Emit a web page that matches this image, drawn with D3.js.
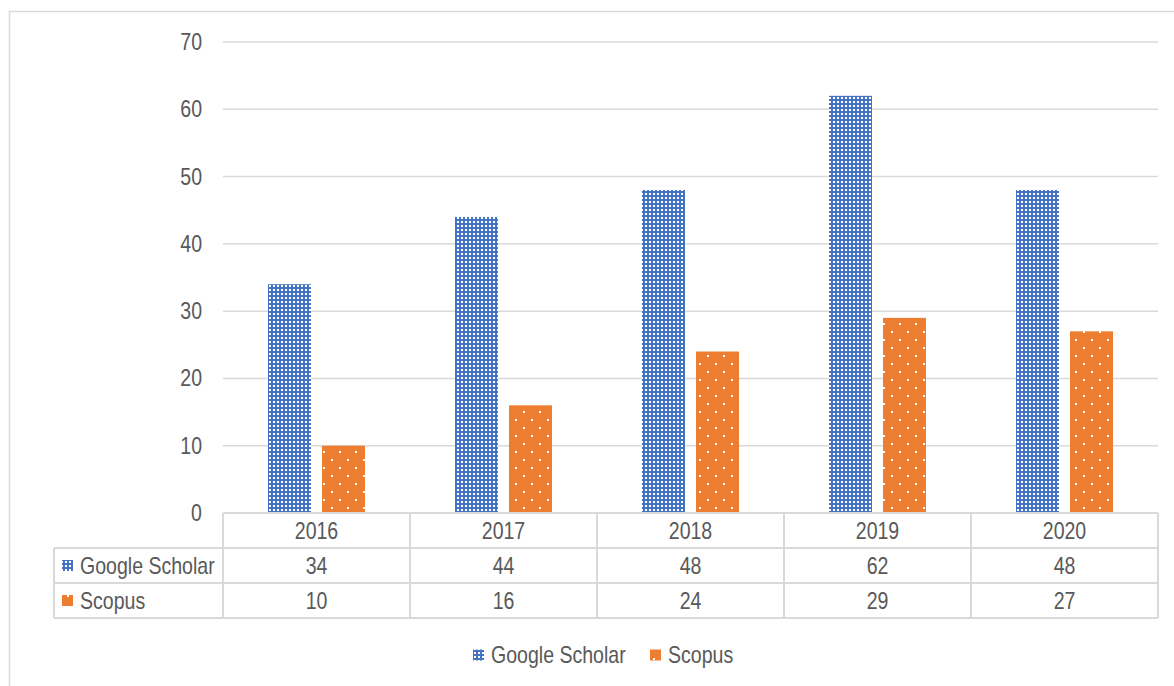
<!DOCTYPE html>
<html>
<head>
<meta charset="utf-8">
<script src="https://cdn.jsdelivr.net/npm/d3@7"></script>
<style>
  body { margin: 0; background: #fff; }
  text { font-family: "Liberation Sans", Arial, sans-serif; fill: #595959; }
</style>
</head>
<body>
<div id="chart"></div>
<script>
// chart data
const years = ['2016', '2017', '2018', '2019', '2020'];
const seriesNames = ['Google Scholar', 'Scopus'];
const googleScholar = [34, 44, 48, 62, 48];
const scopus = [10, 16, 24, 29, 27];
const yTicks = [0, 10, 20, 30, 40, 50, 60, 70];

const values = [googleScholar, scopus];
const colors = ['#4472c4', '#ed7d31'];

const width = 1174, height = 686;
const plot = {left: 223, right: 1158, top: 42, bottom: 513};
const rowH = 35;
const fontSize = 23;
const narrow = 0.85; // no Arial Narrow available, squeeze glyphs horizontally

const svg = d3.select('#chart').append('svg')
    .attr('width', width)
    .attr('height', height);

// place a condensed text label at (x, y)
function label(parent, x, y, str, anchor) {
  return parent.append('text')
      .attr('transform', `translate(${x},${y}) scale(${narrow},1)`)
      .attr('dy', '0.35em')
      .attr('text-anchor', anchor || 'start')
      .attr('font-size', fontSize)
      .text(str);
}

// fill patterns
const defs = svg.append('defs');
const pBlue = defs.append('pattern')
    .attr('id', 'pat0')
    .attr('patternUnits', 'userSpaceOnUse')
    .attr('width', 4).attr('height', 4);
pBlue.append('rect').attr('width', 4).attr('height', 4).attr('fill', colors[0]);
pBlue.append('rect').attr('x', 1).attr('y', 1).attr('width', 2).attr('height', 2).attr('fill', '#fff');

const pOrange = defs.append('pattern')
    .attr('id', 'pat1')
    .attr('patternUnits', 'userSpaceOnUse')
    .attr('width', 16).attr('height', 16);
pOrange.append('rect').attr('width', 16).attr('height', 16).attr('fill', colors[1]);
pOrange.append('rect').attr('x', 3).attr('y', 3).attr('width', 2).attr('height', 2).attr('fill', '#fff');
pOrange.append('rect').attr('x', 11).attr('y', 11).attr('width', 2).attr('height', 2).attr('fill', '#fff');

// outer frame
svg.append('rect')
    .attr('x', 9.5).attr('y', 11.5)
    .attr('width', 1200).attr('height', 700)
    .attr('fill', 'none')
    .attr('stroke', '#d9d9d9')
    .attr('stroke-width', 1.5);

// scales
const y = d3.scaleLinear().domain([0, 70]).range([plot.bottom, plot.top]);
const x0 = d3.scaleBand().domain(years).range([plot.left, plot.right]);
const x1 = d3.scaleBand().domain(seriesNames).range([45, 142]).paddingInner(0.204);

// gridlines
svg.append('g')
  .selectAll('line')
  .data(yTicks)
  .join('line')
    .attr('x1', plot.left).attr('x2', plot.right)
    .attr('y1', d => y(d)).attr('y2', d => y(d))
    .attr('stroke', '#d9d9d9')
    .attr('stroke-width', 1.5);

// y labels
const yAxis = svg.append('g');
yTicks.forEach(t => label(yAxis, 202, y(t), t, 'end'));

// bars
seriesNames.forEach((s, i) => {
  svg.append('g')
    .selectAll('rect')
    .data(years)
    .join('rect')
      .attr('x', (d) => x0(d) + x1(s))
      .attr('y', (d, j) => y(values[i][j]))
      .attr('width', x1.bandwidth())
      .attr('height', (d, j) => y(0) - y(values[i][j]))
      .attr('fill', `url(#pat${i})`);
});

// data table
const table = svg.append('g');
const tableLeft = 54;
const gridColor = '#d9d9d9';

// horizontal lines
table.append('line')
    .attr('x1', plot.left).attr('x2', plot.right)
    .attr('y1', plot.bottom).attr('y2', plot.bottom)
    .attr('stroke', gridColor).attr('stroke-width', 2);
[1, 2, 3].forEach(r => {
  table.append('line')
      .attr('x1', tableLeft).attr('x2', plot.right)
      .attr('y1', plot.bottom + r * rowH).attr('y2', plot.bottom + r * rowH)
      .attr('stroke', gridColor).attr('stroke-width', 2);
});
// vertical lines
table.append('line')
    .attr('x1', tableLeft).attr('x2', tableLeft)
    .attr('y1', plot.bottom + rowH).attr('y2', plot.bottom + 3 * rowH)
    .attr('stroke', gridColor).attr('stroke-width', 2);
years.concat(['end']).forEach((yr, k) => {
  const xx = plot.left + k * x0.bandwidth();
  table.append('line')
      .attr('x1', xx).attr('x2', xx)
      .attr('y1', plot.bottom).attr('y2', plot.bottom + 3 * rowH)
      .attr('stroke', gridColor).attr('stroke-width', 2);
});

// year labels
years.forEach(d => label(table, x0(d) + x0.bandwidth() / 2, plot.bottom + rowH / 2, d, 'middle'));

seriesNames.forEach((s, i) => {
  const cy = plot.bottom + (i + 1.5) * rowH;
  table.append('rect')
      .attr('x', 62).attr('y', cy - 5.5)
      .attr('width', 11).attr('height', 11)
      .attr('fill', `url(#pat${i})`);
  label(table, 80, cy, s);
  years.forEach((d, j) => label(table, x0(d) + x0.bandwidth() / 2, cy, values[i][j], 'middle'));
});

// legend
const legendX = [473, 650];
seriesNames.forEach((s, i) => {
  const g = svg.append('g').attr('transform', `translate(${legendX[i]},655)`);
  g.append('rect')
      .attr('x', 0).attr('y', -5.5)
      .attr('width', 11).attr('height', 11)
      .attr('fill', `url(#pat${i})`);
  label(g, 18, 0, s);
});
</script>
</body>
</html>
